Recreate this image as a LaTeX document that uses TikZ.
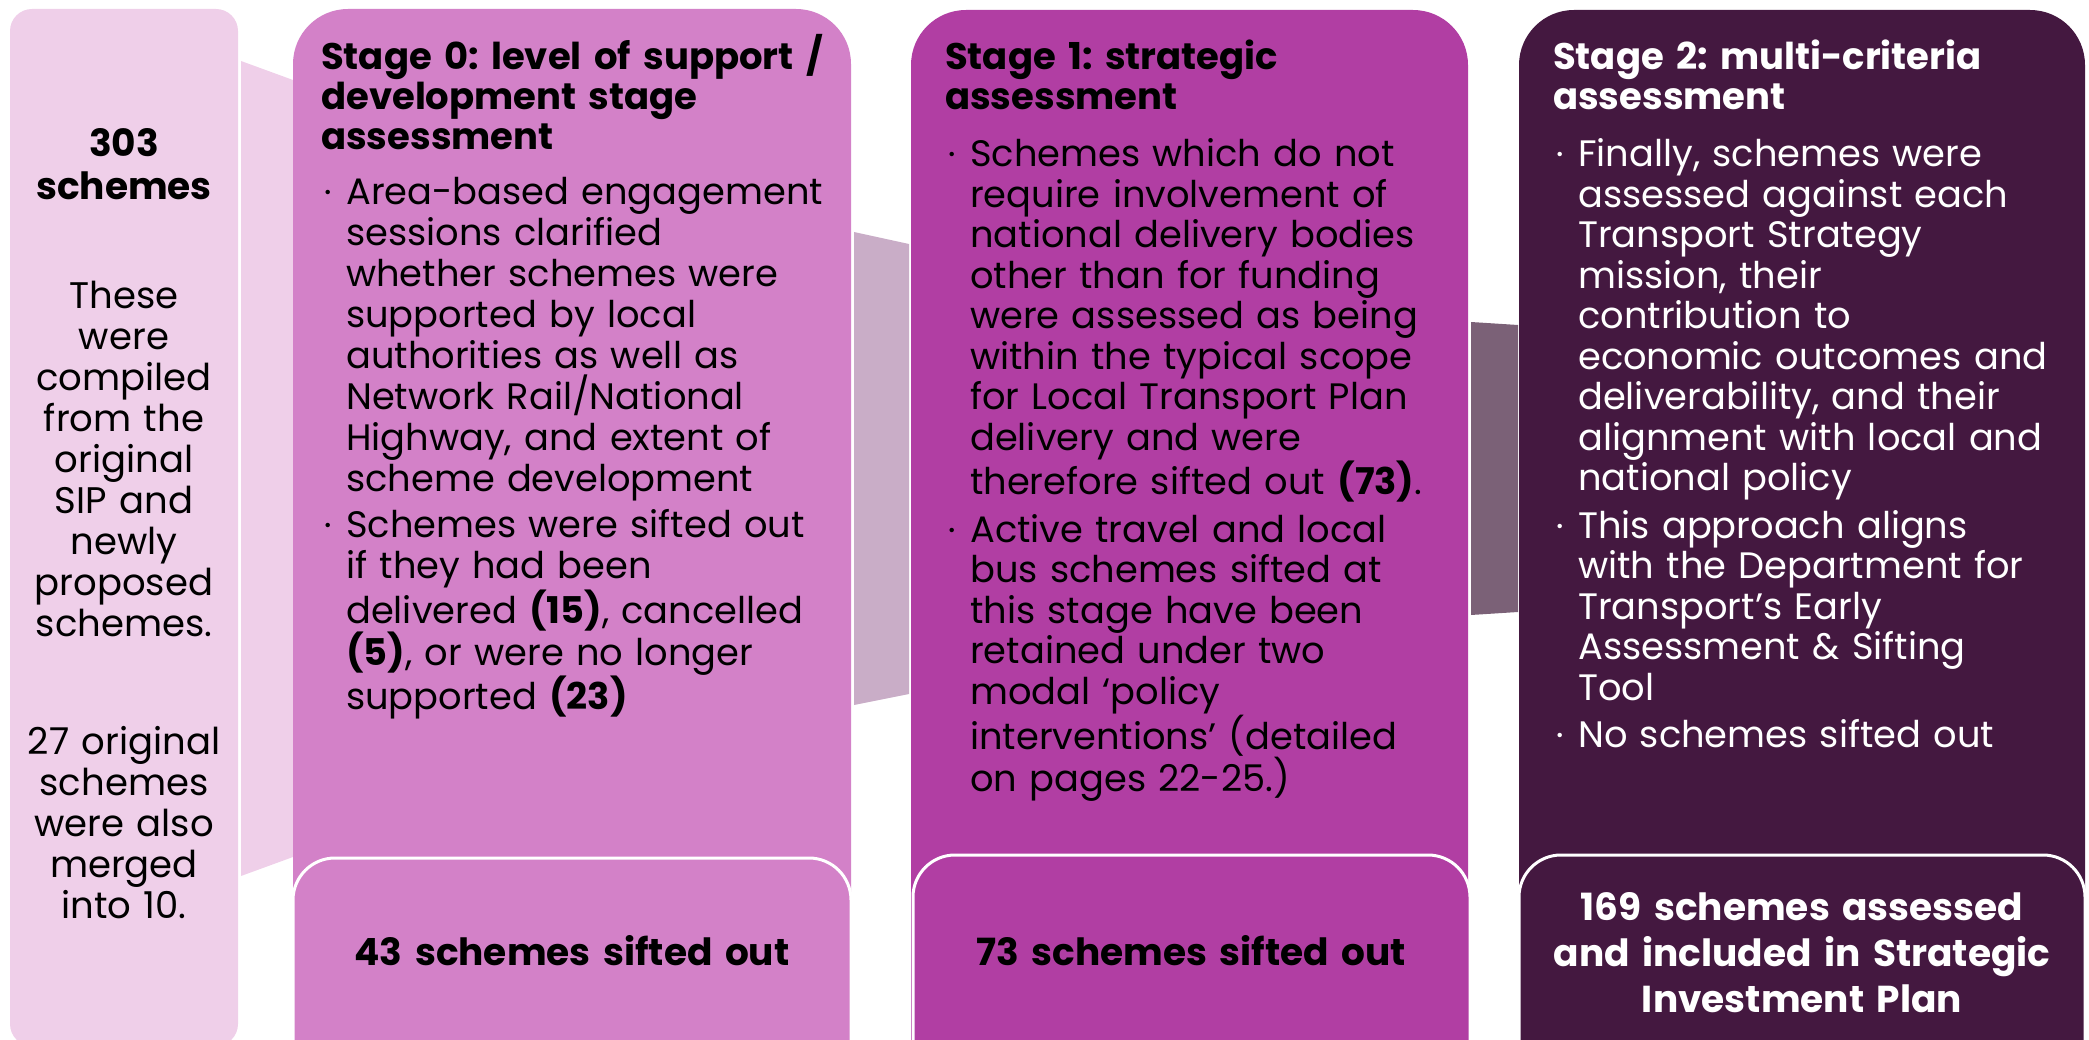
\documentclass[tikz,border=0pt]{standalone}
\usepackage{fontspec}
\setmainfont{Poppins}
\frenchspacing

\definecolor{paleC}{HTML}{EFCFE9}
\definecolor{stageA}{HTML}{D381C8}
\definecolor{stageB}{HTML}{B13EA3}
\definecolor{stageC}{HTML}{441840}
\definecolor{linkA}{HTML}{C9ADC7}
\definecolor{linkB}{HTML}{7B6177}

% bullet mark and continuation indent for the stage lists
\newcommand\bul{\makebox[25pt][l]{\hspace{3pt}\raisebox{0.3ex}{\fontsize{18}{18}\selectfont •}}}
\newcommand\ind{\hspace*{25pt}}

\begin{document}
\begin{tikzpicture}[x=1pt,y=-1pt,
  head/.style={font=\fontsize{37}{40}\selectfont\bfseries, align=left,
    anchor=base west, inner sep=0pt, text width=#1},
  body/.style={font=\fontsize{36.8}{41}\selectfont, align=left,
    anchor=base west, inner sep=0pt, text width=#1},
  outcome/.style={font=\fontsize{37.5}{46}\selectfont\bfseries, align=center,
    anchor=base, inner sep=0pt, text width=#1},
  colbox/.style={rounded corners=55pt},
  outbox/.style={rounded corners=42pt, draw=white, line width=3pt}
]
\useasboundingbox (0,0) rectangle (2089,1040);
\clip (0,0) rectangle (2089,1040);

% total column and funnel links
\fill[paleC, rounded corners=22pt] (10,9) rectangle (238,1046);
\fill[paleC] (241,61) -- (293,80) -- (293,857) -- (241,876) -- cycle;
\fill[linkA] (854,232) -- (909,244) -- (909,694) -- (854,705) -- cycle;
\fill[linkB] (1471,322) -- (1518,325) -- (1518,612) -- (1471,615) -- cycle;

% stage columns with their outcome panels
\fill[stageA, colbox] (293,9) rectangle (851,1100);
\filldraw[stageA, outbox] (293,858) rectangle (851,1100);
\fill[stageB, colbox] (911,10) rectangle (1468,1100);
\filldraw[stageB, outbox] (913,855) rectangle (1470,1100);
\fill[stageC, colbox] (1519,10) rectangle (2085,1100);
\filldraw[stageC, outbox] (1519,855) rectangle (2085,1100);

% total column text
\node[outcome=220pt, font=\fontsize{37.5}{43}\selectfont\bfseries] (total) at (124,157) {303\\schemes};
\node[outcome=220pt, font=\fontsize{37}{41}\selectfont\mdseries] (noteA) at (124,309)
  {These\\were\\compiled\\from the\\original\\SIP and\\newly\\proposed\\schemes.};
\node[outcome=220pt, font=\fontsize{37}{41}\selectfont\mdseries] (noteB) at (124,754)
  {27 original\\schemes\\were also\\merged\\into 10.};

% stage 0
\node[head=540pt] (headA) at (321,70) {Stage 0: level of support /\\development stage\\assessment};
\node[body=540pt] (listA) at (321,205) {%
\bul Area-based engagement\\
\ind sessions clarified\\
\ind whether schemes were\\
\ind supported by local\\
\ind authorities as well as\\
\ind Network Rail/National\\
\ind Highway, and extent of\\
\ind scheme development\\[5pt]
\bul Schemes were sifted out\\
\ind if they had been\\
\ind delivered \textbf{(15)}, cancelled\\
\ind \textbf{(5)}, or were no longer\\
\ind supported \textbf{(23)}};
\node[outcome=540pt] (outA) at (572,965) {43 schemes sifted out};

% stage 1
\node[head=540pt] (headB) at (945,70) {Stage 1: strategic\\assessment};
\node[body=540pt, font=\fontsize{36.8}{40.5}\selectfont] (listB) at (945,167) {%
\bul Schemes which do not\\
\ind require involvement of\\
\ind national delivery bodies\\
\ind other than for funding\\
\ind were assessed as being\\
\ind within the typical scope\\
\ind for Local Transport Plan\\
\ind delivery and were\\
\ind therefore sifted out \textbf{(73)}.\\[7pt]
\bul Active travel and local\\
\ind bus schemes sifted at\\
\ind this stage have been\\
\ind retained under two\\
\ind modal ‘policy\\
\ind interventions’ (detailed\\
\ind on pages 22-25.)};
\node[outcome=540pt] (outB) at (1191,965) {73 schemes sifted out};

% stage 2
\node[head=540pt, text=white] (headC) at (1553,70) {Stage 2: multi-criteria\\assessment};
\node[body=540pt, text=white, font=\fontsize{36.8}{40.5}\selectfont] (listC) at (1553,167) {%
\bul Finally, schemes were\\
\ind assessed against each\\
\ind Transport Strategy\\
\ind mission, their\\
\ind contribution to\\
\ind economic outcomes and\\
\ind deliverability, and their\\
\ind alignment with local and\\
\ind national policy\\[7pt]
\bul This approach aligns\\
\ind with the Department for\\
\ind Transport’s Early\\
\ind Assessment \& Sifting\\
\ind Tool\\[7pt]
\bul No schemes sifted out};
\node[outcome=560pt, text=white] (outC) at (1802,920)
  {169 schemes assessed\\and included in Strategic\\Investment Plan};
\end{tikzpicture}
\end{document}
